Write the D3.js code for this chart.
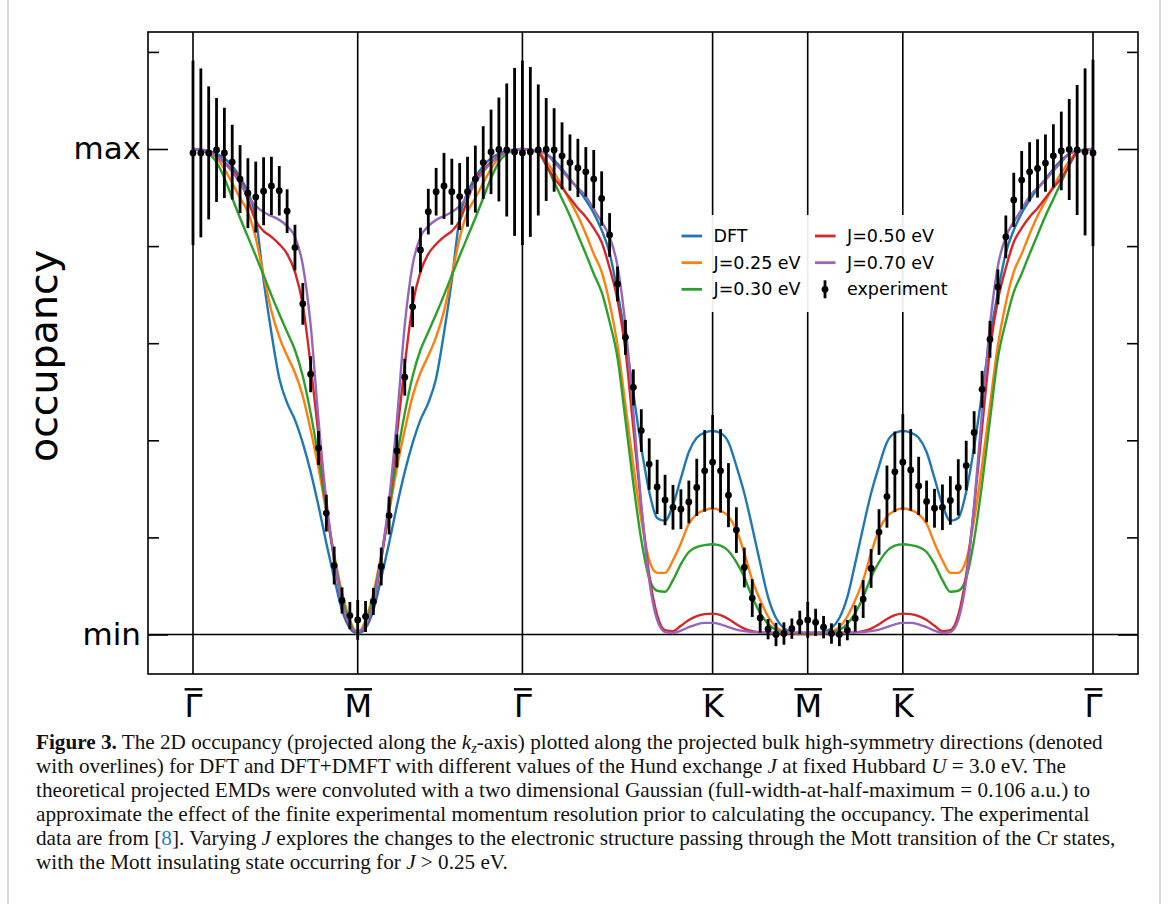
<!DOCTYPE html>
<html>
<head>
<meta charset="utf-8">
<script src="https://cdn.jsdelivr.net/npm/d3@7"></script>
<style>
  body { margin: 0; background: #fff; }
  svg { display: block; }
</style>
</head>
<body>
<div id="chart"></div>
<script>
// High-symmetry points along the k-path (distance units, |Γ-K| = 1)
var kLabels = ["Γ", "M", "Γ", "K", "M", "K", "Γ"];
var kTicks = [0, 0.866, 1.732, 2.732, 3.232, 3.732, 4.732];
// number of k-steps in each segment Γ-M, M-Γ, Γ-K, K-M, M-K, K-Γ
var segSteps = [21, 21, 24, 12, 12, 24];

var yTicksMajor = [0, 1];
var yTickLabels = ["min", "max"];
var yTicksMinor = [0.2, 0.4, 0.6, 0.8, 1.2];

// Theory curves (one value per k-step)
var dft = [
  1.000, 0.999, 0.996, 0.990, 0.981, 0.965, 0.942, 0.911, 0.858, 0.730, 0.621, 0.528, 0.477, 0.442, 0.394, 0.335, 0.265, 0.188, 0.116, 0.050, 0.013, 0.002,
  0.013, 0.050, 0.116, 0.188, 0.265, 0.335, 0.394, 0.442, 0.477, 0.528, 0.621, 0.730, 0.858, 0.911, 0.942, 0.965, 0.981, 0.990, 0.996, 0.999, 1.000,
  0.999, 0.996, 0.990, 0.977, 0.959, 0.938, 0.918, 0.895, 0.868, 0.833, 0.786, 0.705, 0.611, 0.497, 0.386, 0.294, 0.240, 0.234, 0.267, 0.322, 0.376, 0.405, 0.416, 0.419,
  0.415, 0.396, 0.347, 0.291, 0.221, 0.147, 0.077, 0.034, 0.013, 0.005, 0.003, 0.002,
  0.003, 0.005, 0.013, 0.034, 0.077, 0.147, 0.221, 0.291, 0.347, 0.396, 0.415, 0.419,
  0.416, 0.405, 0.376, 0.322, 0.267, 0.234, 0.240, 0.294, 0.386, 0.497, 0.611, 0.705, 0.786, 0.833, 0.868, 0.895, 0.918, 0.938, 0.959, 0.977, 0.990, 0.996, 0.999, 1.000
];
var j025 = [
  1.000, 0.998, 0.994, 0.982, 0.959, 0.930, 0.899, 0.870, 0.817, 0.740, 0.666, 0.613, 0.574, 0.539, 0.491, 0.421, 0.343, 0.252, 0.164, 0.086, 0.030, 0.002,
  0.030, 0.086, 0.164, 0.252, 0.343, 0.421, 0.491, 0.539, 0.574, 0.613, 0.666, 0.740, 0.817, 0.870, 0.899, 0.930, 0.959, 0.982, 0.994, 0.998, 1.000,
  0.998, 0.994, 0.975, 0.951, 0.924, 0.893, 0.862, 0.825, 0.784, 0.747, 0.683, 0.596, 0.473, 0.347, 0.236, 0.153, 0.127, 0.127, 0.153, 0.188, 0.228, 0.248, 0.256, 0.260,
  0.255, 0.243, 0.215, 0.168, 0.112, 0.071, 0.037, 0.015, 0.006, 0.003, 0.002, 0.001,
  0.002, 0.003, 0.006, 0.015, 0.037, 0.071, 0.112, 0.168, 0.215, 0.243, 0.255, 0.260,
  0.256, 0.248, 0.228, 0.188, 0.153, 0.127, 0.127, 0.153, 0.236, 0.347, 0.473, 0.596, 0.683, 0.747, 0.784, 0.825, 0.862, 0.893, 0.924, 0.951, 0.975, 0.994, 0.998, 1.000
];
var j030 = [
  1.000, 0.998, 0.990, 0.973, 0.940, 0.899, 0.858, 0.819, 0.780, 0.740, 0.699, 0.660, 0.623, 0.586, 0.532, 0.456, 0.364, 0.256, 0.160, 0.077, 0.024, 0.001,
  0.024, 0.077, 0.160, 0.256, 0.364, 0.456, 0.532, 0.586, 0.623, 0.660, 0.699, 0.740, 0.780, 0.819, 0.858, 0.899, 0.940, 0.973, 0.990, 0.998, 1.000,
  0.998, 0.992, 0.967, 0.932, 0.897, 0.862, 0.823, 0.784, 0.743, 0.705, 0.644, 0.570, 0.442, 0.310, 0.195, 0.116, 0.090, 0.088, 0.112, 0.145, 0.170, 0.180, 0.184, 0.186,
  0.183, 0.172, 0.149, 0.118, 0.077, 0.044, 0.022, 0.009, 0.004, 0.002, 0.001, 0.001,
  0.001, 0.002, 0.004, 0.009, 0.022, 0.044, 0.077, 0.118, 0.149, 0.172, 0.183, 0.186,
  0.184, 0.180, 0.170, 0.145, 0.112, 0.088, 0.090, 0.116, 0.195, 0.310, 0.442, 0.570, 0.644, 0.705, 0.743, 0.784, 0.823, 0.862, 0.897, 0.932, 0.967, 0.992, 0.998, 1.000
];
var j050 = [
  1.000, 0.998, 0.994, 0.986, 0.973, 0.957, 0.936, 0.895, 0.852, 0.831, 0.819, 0.804, 0.784, 0.747, 0.679, 0.555, 0.411, 0.267, 0.153, 0.065, 0.018, 0.006,
  0.018, 0.065, 0.153, 0.267, 0.411, 0.555, 0.679, 0.747, 0.784, 0.804, 0.819, 0.831, 0.852, 0.895, 0.936, 0.957, 0.973, 0.986, 0.994, 0.998, 1.000,
  0.998, 0.994, 0.967, 0.940, 0.920, 0.899, 0.878, 0.860, 0.837, 0.808, 0.755, 0.689, 0.586, 0.425, 0.263, 0.123, 0.040, 0.009, 0.007, 0.018, 0.030, 0.038, 0.042, 0.043,
  0.040, 0.032, 0.021, 0.012, 0.007, 0.004, 0.003, 0.002, 0.002, 0.002, 0.002, 0.002,
  0.002, 0.002, 0.002, 0.002, 0.003, 0.004, 0.007, 0.012, 0.021, 0.032, 0.040, 0.043,
  0.042, 0.038, 0.030, 0.018, 0.007, 0.009, 0.040, 0.123, 0.263, 0.425, 0.586, 0.689, 0.755, 0.808, 0.837, 0.860, 0.878, 0.899, 0.920, 0.940, 0.967, 0.994, 0.998, 1.000
];
var j070 = [
  1.000, 0.998, 0.994, 0.984, 0.971, 0.953, 0.930, 0.903, 0.883, 0.870, 0.862, 0.854, 0.841, 0.819, 0.761, 0.637, 0.442, 0.277, 0.158, 0.067, 0.020, 0.007,
  0.020, 0.067, 0.158, 0.277, 0.442, 0.637, 0.761, 0.819, 0.841, 0.854, 0.862, 0.870, 0.883, 0.903, 0.930, 0.953, 0.971, 0.984, 0.994, 0.998, 1.000,
  0.998, 0.996, 0.990, 0.973, 0.955, 0.936, 0.920, 0.903, 0.876, 0.850, 0.819, 0.759, 0.637, 0.458, 0.267, 0.112, 0.030, 0.005, 0.003, 0.008, 0.015, 0.021, 0.024, 0.024,
  0.021, 0.015, 0.010, 0.007, 0.005, 0.004, 0.004, 0.004, 0.004, 0.004, 0.004, 0.004,
  0.004, 0.004, 0.004, 0.004, 0.004, 0.004, 0.005, 0.007, 0.010, 0.015, 0.021, 0.024,
  0.024, 0.021, 0.015, 0.008, 0.003, 0.005, 0.030, 0.112, 0.267, 0.458, 0.637, 0.759, 0.819, 0.850, 0.876, 0.903, 0.920, 0.936, 0.955, 0.973, 0.990, 0.996, 0.998, 1.000
];

// Experiment: occupancy and error bar half-length
var expVal = [
  0.992, 0.992, 0.992, 0.998, 0.992, 0.973, 0.938, 0.909, 0.901, 0.913, 0.924, 0.914, 0.872, 0.797, 0.681, 0.536, 0.384, 0.250, 0.142, 0.070, 0.039, 0.030,
  0.037, 0.068, 0.140, 0.245, 0.378, 0.530, 0.675, 0.792, 0.871, 0.912, 0.924, 0.912, 0.902, 0.912, 0.938, 0.972, 0.994, 0.999, 0.998, 0.994, 0.992,
  0.994, 0.998, 0.999, 0.998, 0.986, 0.972, 0.961, 0.953, 0.938, 0.898, 0.823, 0.722, 0.612, 0.509, 0.420, 0.351, 0.304, 0.277, 0.262, 0.258, 0.273, 0.303, 0.337, 0.355,
  0.337, 0.287, 0.215, 0.138, 0.075, 0.034, 0.011, 0.000, 0.002, 0.012, 0.025, 0.030,
  0.025, 0.015, 0.002, 0.000, 0.009, 0.033, 0.073, 0.136, 0.211, 0.284, 0.335, 0.355,
  0.339, 0.306, 0.274, 0.260, 0.262, 0.276, 0.303, 0.348, 0.416, 0.505, 0.608, 0.716, 0.819, 0.895, 0.936, 0.953, 0.960, 0.971, 0.986, 0.996, 0.999, 0.998, 0.994, 0.992
];
var expErr = [
  0.190, 0.174, 0.137, 0.107, 0.093, 0.077, 0.070, 0.072, 0.073, 0.070, 0.060, 0.051, 0.045, 0.047, 0.043, 0.037, 0.035, 0.038, 0.039, 0.027, 0.028, 0.041,
  0.032, 0.028, 0.039, 0.039, 0.034, 0.038, 0.042, 0.046, 0.047, 0.049, 0.068, 0.068, 0.069, 0.072, 0.069, 0.075, 0.087, 0.107, 0.137, 0.173, 0.190,
  0.175, 0.135, 0.106, 0.086, 0.069, 0.058, 0.060, 0.051, 0.060, 0.056, 0.045, 0.036, 0.036, 0.037, 0.044, 0.053, 0.056, 0.052, 0.046, 0.041, 0.044, 0.059, 0.084, 0.097,
  0.086, 0.066, 0.047, 0.041, 0.039, 0.030, 0.021, 0.024, 0.023, 0.021, 0.024, 0.037,
  0.028, 0.023, 0.021, 0.024, 0.021, 0.027, 0.039, 0.040, 0.047, 0.064, 0.083, 0.099,
  0.084, 0.060, 0.043, 0.040, 0.047, 0.050, 0.058, 0.051, 0.044, 0.038, 0.038, 0.036, 0.044, 0.056, 0.060, 0.061, 0.060, 0.059, 0.065, 0.081, 0.104, 0.134, 0.172, 0.192
];

var series = [
  {name: "DFT",        values: dft,  color: "#1f77b4"},
  {name: "J=0.25 eV",  values: j025, color: "#ff7f0e"},
  {name: "J=0.30 eV",  values: j030, color: "#2ca02c"},
  {name: "J=0.50 eV",  values: j050, color: "#d62728"},
  {name: "J=0.70 eV",  values: j070, color: "#9467bd"}
];

// k grid: even steps inside each segment of the path
var kGrid = [kTicks[0]];
segSteps.forEach(function(n, s) {
  for (var i = 1; i <= n; i++) {
    kGrid.push(kTicks[s] + (kTicks[s + 1] - kTicks[s]) * i / n);
  }
});

// Set graph margins and dimensions
var margin = {top: 32, left: 148},
    width = 990,
    height = 642;

var x = d3.scaleLinear()
          .domain([-0.2366, 4.9686])
          .range([0, width]);

var y = d3.scaleLinear()
          .domain([-0.0814, 1.241])
          .range([height, 0]);

var root = d3.select("#chart").append("svg")
    .attr("width", 1170)
    .attr("height", 904);

// light page frame around the figure
root.append("rect")
    .attr("x", 8).attr("y", -5)
    .attr("width", 1152).attr("height", 920)
    .attr("fill", "none")
    .attr("stroke", "#cfcfcf")
    .attr("stroke-width", 1.5);

var svg = root.append("g")
    .attr("transform", "translate(" + margin.left + "," + margin.top + ")");

// high-symmetry vertical lines and zero line
svg.selectAll(".kline")
    .data(kTicks)
  .enter().append("line")
    .attr("class", "kline")
    .attr("x1", function(d) { return x(d); })
    .attr("x2", function(d) { return x(d); })
    .attr("y1", 0)
    .attr("y2", height)
    .attr("stroke", "#000")
    .attr("stroke-width", 1.6);

svg.append("line")
    .attr("x1", 0).attr("x2", width)
    .attr("y1", y(0)).attr("y2", y(0))
    .attr("stroke", "#000")
    .attr("stroke-width", 1.6);

// theory curves
var line = d3.line()
    .x(function(d) { return x(d[0]); })
    .y(function(d) { return y(d[1]); })
    .curve(d3.curveMonotoneX);

series.forEach(function(s) {
  svg.append("path")
      .datum(kGrid.map(function(k, i) { return [k, s.values[i]]; }))
      .attr("fill", "none")
      .attr("stroke", s.color)
      .attr("stroke-width", 2.4)
      .attr("d", line);
});

// experiment with error bars
var expData = kGrid.map(function(k, i) { return {k: k, v: expVal[i], e: expErr[i]}; });

svg.selectAll(".ebar")
    .data(expData)
  .enter().append("line")
    .attr("class", "ebar")
    .attr("x1", function(d) { return x(d.k); })
    .attr("x2", function(d) { return x(d.k); })
    .attr("y1", function(d) { return y(d.v - d.e); })
    .attr("y2", function(d) { return y(d.v + d.e); })
    .attr("stroke", "#000")
    .attr("stroke-width", 2.8);

svg.selectAll(".dot")
    .data(expData)
  .enter().append("circle")
    .attr("class", "dot")
    .attr("cx", function(d) { return x(d.k); })
    .attr("cy", function(d) { return y(d.v); })
    .attr("r", 3.4)
    .attr("fill", "#000");

// frame
svg.append("rect")
    .attr("width", width)
    .attr("height", height)
    .attr("fill", "none")
    .attr("stroke", "#000")
    .attr("stroke-width", 1.6);

// y axes (ticks pointing inwards)
function styleAxis(g) {
  g.select(".domain").remove();
  g.selectAll(".tick line").attr("stroke-width", 1.6);
}

svg.append("g")
    .call(d3.axisLeft(y).tickValues(yTicksMajor).tickSizeInner(-20).tickSizeOuter(0)
      .tickPadding(7).tickFormat(function(d, i) { return yTickLabels[i]; }))
    .call(styleAxis)
    .selectAll("text")
    .style("font-family", "DejaVu Sans")
    .style("font-size", "31px")
    .attr("fill", "#000");

svg.append("g")
    .call(d3.axisLeft(y).tickValues(yTicksMinor).tickSizeInner(-11).tickSizeOuter(0).tickFormat(""))
    .call(styleAxis);

svg.append("g")
    .attr("transform", "translate(" + width + ",0)")
    .call(d3.axisRight(y).tickValues(yTicksMajor).tickSizeInner(-20).tickSizeOuter(0).tickFormat(""))
    .call(styleAxis);

svg.append("g")
    .attr("transform", "translate(" + width + ",0)")
    .call(d3.axisRight(y).tickValues(yTicksMinor).tickSizeInner(-11).tickSizeOuter(0).tickFormat(""))
    .call(styleAxis);

// x axis with overlined labels
var xAxis = svg.append("g")
    .attr("transform", "translate(0," + height + ")")
    .call(d3.axisBottom(x).tickValues(kTicks).tickSize(0)
      .tickFormat(function(d, i) { return kLabels[i]; }));
xAxis.select(".domain").remove();
xAxis.selectAll(".tick text")
    .attr("y", 43)
    .attr("dy", null)
    .attr("fill", "#000")
    .style("font-family", "DejaVu Sans")
    .style("font-size", "32px");
xAxis.selectAll(".tick").each(function() {
  var t = d3.select(this).select("text");
  var w = t.node().getComputedTextLength();
  d3.select(this).append("line")
      .attr("x1", -w / 2).attr("x2", w / 2)
      .attr("y1", 15.3).attr("y2", 15.3)
      .attr("stroke", "#000")
      .attr("stroke-width", 2.4);
});

// y label
root.append("text")
    .attr("transform", "translate(57,356) rotate(-90)")
    .style("text-anchor", "middle")
    .style("font-family", "DejaVu Sans")
    .style("font-size", "39.5px")
    .text("occupancy");

// legend
var legend = root.append("g");
legend.append("rect")
    .attr("x", 672).attr("y", 215)
    .attr("width", 288).attr("height", 97)
    .attr("fill", "#fff")
    .attr("fill-opacity", 0.92);

var legendItems = [
  {label: "DFT",        color: "#1f77b4", col: 0, row: 0},
  {label: "J=0.25 eV",  color: "#ff7f0e", col: 0, row: 1},
  {label: "J=0.30 eV",  color: "#2ca02c", col: 0, row: 2},
  {label: "J=0.50 eV",  color: "#d62728", col: 1, row: 0},
  {label: "J=0.70 eV",  color: "#9467bd", col: 1, row: 1},
  {label: "experiment", color: null,      col: 1, row: 2}
];
var colX = [681.5, 815], rowY = [236, 262.7, 289.3];

legendItems.forEach(function(it) {
  var lx = colX[it.col], ly = rowY[it.row];
  if (it.color) {
    legend.append("line")
        .attr("x1", lx).attr("x2", lx + 20.5)
        .attr("y1", ly).attr("y2", ly)
        .attr("stroke", it.color)
        .attr("stroke-width", 2.8);
  } else {
    legend.append("line")
        .attr("x1", lx + 10).attr("x2", lx + 10)
        .attr("y1", ly - 9).attr("y2", ly + 9)
        .attr("stroke", "#000")
        .attr("stroke-width", 2.8);
    legend.append("circle")
        .attr("cx", lx + 10).attr("cy", ly)
        .attr("r", 3.4)
        .attr("fill", "#000");
  }
  legend.append("text")
      .attr("x", lx + 32)
      .attr("y", ly)
      .attr("dy", "0.35em")
      .style("font-family", "DejaVu Sans")
      .style("font-size", "17.5px")
      .text(it.label);
});

// caption
var captionLines = [
  [["b", "Figure 3."], ["n", " The 2D occupancy (projected along the "], ["i", "k"], ["sub", "z"],
   ["n", "-axis) plotted along the projected bulk high-symmetry directions (denoted"]],
  [["n", "with overlines) for DFT and DFT+DMFT with different values of the Hund exchange "], ["i", "J"],
   ["n", " at fixed Hubbard "], ["i", "U"], ["n", " = 3.0 eV. The"]],
  [["n", "theoretical projected EMDs were convoluted with a two dimensional Gaussian (full-width-at-half-maximum = 0.106 a.u.) to"]],
  [["n", "approximate the effect of the finite experimental momentum resolution prior to calculating the occupancy. The experimental"]],
  [["n", "data are from ["], ["link", "8"], ["n", "]. Varying "], ["i", "J"],
   ["n", " explores the changes to the electronic structure passing through the Mott transition of the Cr states,"]],
  [["n", "with the Mott insulating state occurring for "], ["i", "J"], ["n", " > 0.25 eV."]]
];

captionLines.forEach(function(parts, li) {
  var t = root.append("text")
      .attr("x", 36)
      .attr("y", 749 + li * 24)
      .style("font-family", "Liberation Serif")
      .style("font-size", "21.2px")
      .attr("fill", "#111");
  var shifted = false;
  parts.forEach(function(p) {
    var ts = t.append("tspan").text(p[1]);
    if (p[0] === "b") ts.style("font-weight", "bold");
    if (p[0] === "i") ts.style("font-style", "italic");
    if (p[0] === "link") ts.attr("fill", "#2b7bc0");
    if (p[0] === "sub") {
      ts.style("font-style", "italic").style("font-size", "14px").attr("dy", 4);
      shifted = true;
    } else if (shifted) {
      ts.attr("dy", -4);
      shifted = false;
    }
  });
});
</script>
</body>
</html>
